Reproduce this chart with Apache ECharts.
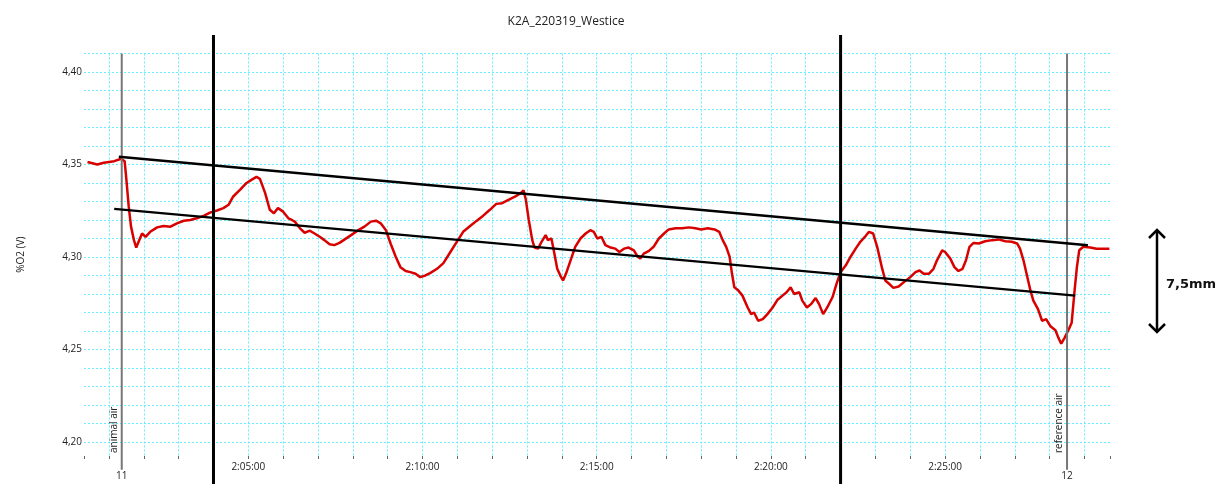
<!DOCTYPE html>
<html>
<head>
<meta charset="utf-8">
<script src="https://cdn.jsdelivr.net/npm/echarts@6/dist/echarts.min.js"></script>
<style>
html,body{margin:0;padding:0;background:#fff;}
#chart{width:1221px;height:484px;}
</style>
</head>
<body>
<div id="chart"></div>
<script>
// ---- data (time in seconds after 2:00:00, %O2 in V) ----
const TITLE = 'K2A_220319_Westice';
const Y_NAME = '%O2 (V)';
const X_MIN = 17, X_MAX = 1784;
const Y_MIN = 4.1924, Y_MAX = 4.41;

const times = [23,40,51,69,81,87,90,94,98,103,107,111,117,123,131,143,154,166,177,189,200,211,223,234,246,257,266,274,286,297,306,314,320,329,337,344,351,360,369,375,
380,389,397,406,414,423,431,440,448,457,466,477,488,500,511,520,528,537,545,554,562,571,579,588,596,605,613,625,636,648,659,670,682,693,704,716,727,
737,748,760,769,774,778,783,789,793,799,805,812,816,822,826,832,838,842,847,855,863,872,881,889,895,901,908,915,924,932,939,947,955,964,970,975,981,990,998,1007,1016,1024,1036,1047,1059,1070,
1080,1091,1103,1111,1117,1123,1129,1133,1137,1143,1151,1160,1166,1171,1178,1186,1194,1203,1211,1220,1227,1234,1240,1249,1254,1262,1269,1277,1283,1290,1297,1306,1313,1320,1329,1337,1346,1354,1363,1369,1376,1383,1391,1397,1405,1411,1420,1429,
1440,1449,1456,1463,1472,1480,1486,1495,1500,1509,1516,1523,1530,1536,1542,1549,1558,1569,1581,1592,1604,1615,1624,1629,1635,1641,1647,1652,1660,1667,1674,1681,1690,1695,1700,1706,1713,1718,1723,1727,1731,1738,1750,1761,1773,1783];
const o2 = [4.3513,4.3500,4.3509,4.3518,4.3531,4.3518,4.3418,4.3273,4.3164,4.3091,4.3051,4.3082,4.3127,4.3109,4.3136,4.3160,4.3167,4.3164,4.3182,4.3196,4.3200,4.3209,4.3222,4.3240,4.3251,4.3264,4.3282,4.3327,4.3364,4.3400,4.3418,4.3433,4.3422,4.3345,4.3255,4.3236,4.3264,4.3245,4.3209,4.3200,
4.3191,4.3155,4.3131,4.3142,4.3127,4.3109,4.3091,4.3069,4.3064,4.3076,4.3095,4.3118,4.3142,4.3164,4.3191,4.3196,4.3182,4.3145,4.3073,4.3000,4.2945,4.2924,4.2918,4.2909,4.2891,4.2900,4.2913,4.2936,4.2967,4.3027,4.3082,4.3136,4.3167,4.3195,4.3222,4.3255,4.3287,
4.3291,4.3309,4.3327,4.3345,4.3360,4.3309,4.3200,4.3091,4.3051,4.3045,4.3082,4.3118,4.3091,4.3100,4.3036,4.2936,4.2895,4.2873,4.2909,4.2982,4.3055,4.3100,4.3127,4.3145,4.3136,4.3100,4.3109,4.3064,4.3051,4.3045,4.3027,4.3045,4.3051,4.3036,4.3004,4.2991,4.3018,4.3033,4.3055,4.3100,4.3127,4.3149,4.3155,4.3155,4.3160,4.3155,
4.3149,4.3155,4.3149,4.3136,4.3091,4.3055,4.3000,4.2909,4.2836,4.2822,4.2791,4.2727,4.2691,4.2700,4.2655,4.2664,4.2691,4.2727,4.2767,4.2791,4.2809,4.2836,4.2800,4.2809,4.2764,4.2727,4.2745,4.2778,4.2745,4.2691,4.2727,4.2782,4.2855,4.2918,4.2955,4.3000,4.3045,4.3082,4.3113,4.3136,4.3127,4.3055,4.2945,4.2873,4.2851,4.2833,4.2840,4.2864,
4.2891,4.2918,4.2927,4.2909,4.2909,4.2936,4.2982,4.3036,4.3027,4.2991,4.2945,4.2924,4.2936,4.2982,4.3055,4.3076,4.3073,4.3085,4.3091,4.3095,4.3085,4.3082,4.3073,4.3045,4.2982,4.2900,4.2818,4.2764,4.2718,4.2655,4.2664,4.2627,4.2604,4.2564,4.2531,4.2564,4.2609,4.2645,4.2818,4.2945,4.3036,4.3055,4.3051,4.3045,4.3045,4.3045];

// event markers
const markerTimes = [82, 1710];
const markerNames = ['animal air', 'reference air'];
const markerNums = ['11', '12'];
const markerSpan = [4.41, 4.185];

// thick black vertical cursors
const cursorTimes = [240, 1320];
const cursorSpan = [4.42, 4.17];

// sloped envelope lines [t0, y0, t1, y1]
const upperLine = [77, 4.3542, 1746, 4.3064];
const lowerLine = [69, 4.3260, 1724, 4.2791];

const ANNOT_TEXT = '7,5mm';

// ---- build ----
const redData = times.map((t, i) => [t, o2[i]]);
const FONT = 'Open Sans';

function fmtTime(v) {
  if (Math.abs(v % 300) > 1e-6) return '';
  const m = Math.round(v / 60);
  return '2:' + String(m).padStart(2, '0') + ':00';
}
function fmtY(v) {
  const k = v * 100;
  if (Math.abs(k - Math.round(k)) > 1e-6) return '';
  if (Math.round(k) % 5 !== 0) return '';
  return v.toFixed(2).replace('.', ',');
}

const series = [];
series.push({
  type: 'line', data: redData, showSymbol: false, symbol: 'none',
  lineStyle: { color: '#d90000', width: 2.5 }, z: 2
});
markerTimes.forEach((t, i) => {
  series.push({
    type: 'line', symbol: 'none', clip: false, z: 3,
    data: [[t, markerSpan[0]], [t, markerSpan[1]]],
    lineStyle: { color: '#777777', width: 2 },
    markLine: {
      silent: true, symbol: ['none', 'none'], animation: false,
      lineStyle: { color: 'rgba(0,0,0,0)', width: 0, type: 'solid' },
      data: [
        [{ coord: [t, Y_MIN], label: { show: true, position: 'insideStartTop', formatter: markerNames[i], distance: 3, color: '#222', fontSize: 10, fontFamily: FONT } },
         { coord: [t, Y_MAX] }],
        [{ coord: [t, Y_MAX], label: { show: true, position: 'end', formatter: markerNums[i], distance: 15, color: '#222', fontSize: 10, fontFamily: FONT } },
         { coord: [t, Y_MIN] }]
      ]
    }
  });
});
[upperLine, lowerLine].forEach(l => {
  series.push({
    type: 'line', symbol: 'none', clip: false, z: 4,
    data: [[l[0], l[1]], [l[2], l[3]]],
    lineStyle: { color: '#000', width: 2.5 }
  });
});
cursorTimes.forEach(t => {
  series.push({
    type: 'line', symbol: 'none', clip: false, z: 5,
    data: [[t, cursorSpan[0]], [t, cursorSpan[1]]],
    lineStyle: { color: '#000', width: 3 }
  });
});

const gridLine = { show: true, showMinLine: false, lineStyle: { color: '#66f0ff', width: 1, type: [2, 2] } };

const option = {
  animation: false,
  backgroundColor: '#ffffff',
  title: {
    text: TITLE, left: 561, top: 11, textAlign: 'center',
    textStyle: { fontSize: 12, fontWeight: 'normal', color: '#222', fontFamily: FONT }
  },
  grid: { left: 84, right: 111, top: 53.5, bottom: 28, outerBoundsMode: 'none' },
  xAxis: {
    type: 'value', min: X_MIN, max: X_MAX, minInterval: 60, maxInterval: 60,
    axisLine: { show: false },
    axisTick: { show: true, length: 3, lineStyle: { color: '#666' } },
    axisLabel: { formatter: fmtTime, fontSize: 10, color: '#222', margin: 6, fontFamily: FONT, showMinLabel: true, showMaxLabel: true },
    splitLine: Object.assign({}, gridLine, { showMaxLine: false })
  },
  yAxis: {
    type: 'value', min: Y_MIN, max: Y_MAX, minInterval: 0.01, maxInterval: 0.01,
    name: Y_NAME, nameLocation: 'middle', nameGap: 58, nameRotate: 90,
    nameTextStyle: { fontSize: 10, color: '#222', fontFamily: FONT },
    axisLine: { show: false }, axisTick: { show: false },
    axisLabel: { formatter: fmtY, fontSize: 10, color: '#222', margin: 2, fontFamily: FONT },
    splitLine: gridLine
  },
  graphic: [
    { type: 'line', shape: { x1: 1157, y1: 231, x2: 1157, y2: 331 }, style: { stroke: '#000', lineWidth: 2.5 } },
    { type: 'polyline', shape: { points: [[1149, 238], [1157, 230], [1165, 238]] }, style: { stroke: '#000', lineWidth: 2.5, fill: null } },
    { type: 'polyline', shape: { points: [[1149, 324], [1157, 332], [1165, 324]] }, style: { stroke: '#000', lineWidth: 2.5, fill: null } },
    { type: 'text', x: 1166, y: 285, style: { text: ANNOT_TEXT, fontSize: 13, fontWeight: 'bold', fill: '#111', fontFamily: 'DejaVu Sans', textVerticalAlign: 'middle', verticalAlign: 'middle' } }
  ],
  series: series
};

const chart = echarts.init(document.getElementById('chart'), null, { renderer: 'canvas' });
chart.setOption(option);
</script>
</body>
</html>
